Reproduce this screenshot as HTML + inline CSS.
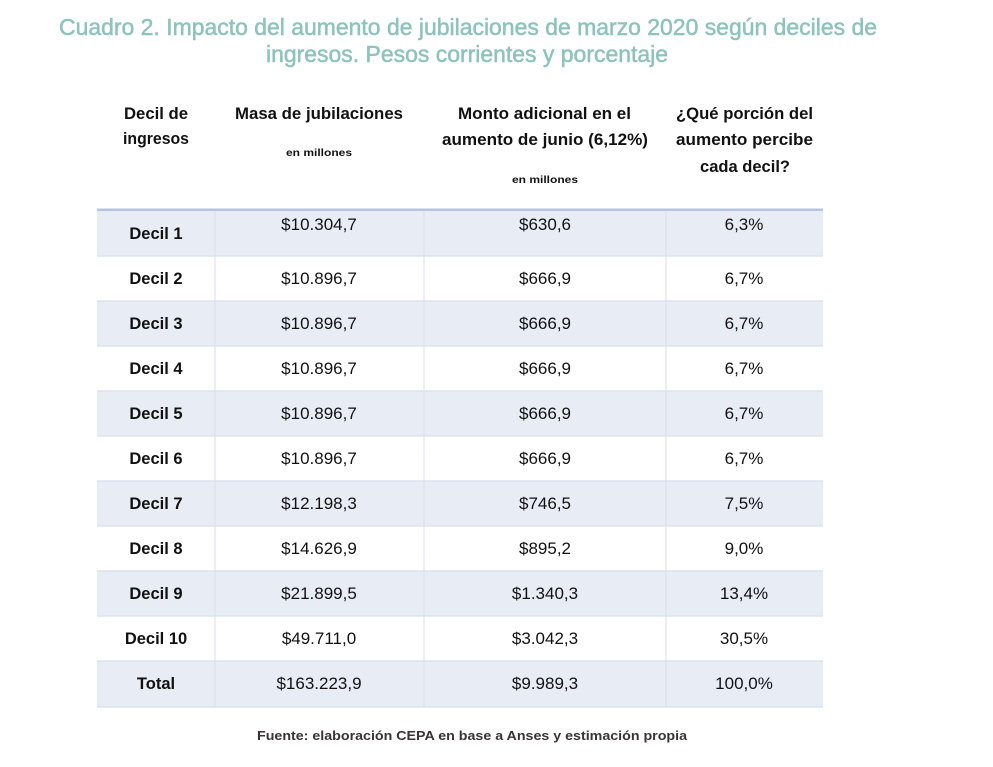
<!DOCTYPE html>
<html>
<head>
<meta charset="utf-8">
<style>
html,body{margin:0;padding:0;background:#fff;}
svg{display:block;}
.t{font-family:"Liberation Sans",sans-serif;fill:#8cc3bd;stroke:#8cc3bd;stroke-width:0.5px;font-size:23px;}
.h{font-family:"Liberation Sans",sans-serif;font-weight:bold;font-size:16.5px;fill:#111;}
.s{font-family:"Liberation Sans",sans-serif;font-weight:bold;font-size:10.5px;fill:#111;}
.l{font-family:"Liberation Sans",sans-serif;font-weight:bold;font-size:16.5px;fill:#111;}
.v{font-family:"Liberation Sans",sans-serif;font-size:17px;fill:#111;}
.f{font-family:"Liberation Sans",sans-serif;font-weight:bold;font-size:12.5px;fill:#3a3234;}
</style>
</head>
<body>
<svg width="993" height="767" viewBox="0 0 993 767" xmlns="http://www.w3.org/2000/svg">
<rect x="0" y="0" width="993" height="767" fill="#fff"/>
<!-- Title -->
<text class="t" x="59" y="35" textLength="818" lengthAdjust="spacingAndGlyphs">Cuadro 2. Impacto del aumento de jubilaciones de marzo 2020 según deciles de</text>
<text class="t" x="266" y="62" textLength="402" lengthAdjust="spacingAndGlyphs">ingresos. Pesos corrientes y porcentaje</text>

<!-- Header -->
<text class="h" x="124" y="119" textLength="64" lengthAdjust="spacingAndGlyphs">Decil de</text>
<text class="h" x="123" y="144" textLength="66" lengthAdjust="spacingAndGlyphs">ingresos</text>
<text class="h" x="235" y="119" textLength="168" lengthAdjust="spacingAndGlyphs">Masa de jubilaciones</text>
<text class="s" x="286" y="156" textLength="66" lengthAdjust="spacingAndGlyphs">en millones</text>
<text class="h" x="458" y="119" textLength="173" lengthAdjust="spacingAndGlyphs">Monto adicional en el</text>
<text class="h" x="442" y="145" textLength="206" lengthAdjust="spacingAndGlyphs">aumento de junio (6,12%)</text>
<text class="s" x="512" y="183" textLength="66" lengthAdjust="spacingAndGlyphs">en millones</text>
<text class="h" x="676" y="119" textLength="137" lengthAdjust="spacingAndGlyphs">¿Qué porción del</text>
<text class="h" x="676" y="145" textLength="137" lengthAdjust="spacingAndGlyphs">aumento percibe</text>
<text class="h" x="700" y="172" textLength="90" lengthAdjust="spacingAndGlyphs">cada decil?</text>

<!-- Row fills -->
<g fill="#e8ecf5">
<rect x="97" y="210" width="726" height="46"/>
<rect x="97" y="301" width="726" height="45"/>
<rect x="97" y="391" width="726" height="45"/>
<rect x="97" y="481" width="726" height="45"/>
<rect x="97" y="571" width="726" height="45"/>
<rect x="97" y="661" width="726" height="46"/>
</g>
<!-- Horizontal separators -->
<g stroke="#d8deed" stroke-width="1.2">
<line x1="97" y1="256" x2="823" y2="256"/>
<line x1="97" y1="301" x2="823" y2="301"/>
<line x1="97" y1="346" x2="823" y2="346"/>
<line x1="97" y1="391" x2="823" y2="391"/>
<line x1="97" y1="436" x2="823" y2="436"/>
<line x1="97" y1="481" x2="823" y2="481"/>
<line x1="97" y1="526" x2="823" y2="526"/>
<line x1="97" y1="571" x2="823" y2="571"/>
<line x1="97" y1="616" x2="823" y2="616"/>
<line x1="97" y1="661" x2="823" y2="661"/>
<line x1="97" y1="707" x2="823" y2="707"/>
</g>
<!-- Vertical dividers -->
<g stroke="#d8deed" stroke-width="1">
<line x1="215" y1="209" x2="215" y2="707"/>
<line x1="424" y1="209" x2="424" y2="707"/>
<line x1="666" y1="209" x2="666" y2="707"/>
</g>
<!-- Header bottom line -->
<rect x="97" y="208.5" width="726" height="2.5" fill="#b4c3e1"/>

<!-- Row labels -->
<g class="l" text-anchor="middle">
<text x="156" y="239">Decil 1</text>
<text x="156" y="284">Decil 2</text>
<text x="156" y="329">Decil 3</text>
<text x="156" y="374">Decil 4</text>
<text x="156" y="419">Decil 5</text>
<text x="156" y="464">Decil 6</text>
<text x="156" y="509">Decil 7</text>
<text x="156" y="554">Decil 8</text>
<text x="156" y="599">Decil 9</text>
<text x="156" y="644">Decil 10</text>
<text x="156" y="689">Total</text>
</g>
<!-- Column 2 -->
<g class="v" text-anchor="middle">
<text x="319" y="230">$10.304,7</text>
<text x="319" y="284">$10.896,7</text>
<text x="319" y="329">$10.896,7</text>
<text x="319" y="374">$10.896,7</text>
<text x="319" y="419">$10.896,7</text>
<text x="319" y="464">$10.896,7</text>
<text x="319" y="509">$12.198,3</text>
<text x="319" y="554">$14.626,9</text>
<text x="319" y="599">$21.899,5</text>
<text x="319" y="644">$49.711,0</text>
<text x="319" y="689">$163.223,9</text>
</g>
<!-- Column 3 -->
<g class="v" text-anchor="middle">
<text x="545" y="230">$630,6</text>
<text x="545" y="284">$666,9</text>
<text x="545" y="329">$666,9</text>
<text x="545" y="374">$666,9</text>
<text x="545" y="419">$666,9</text>
<text x="545" y="464">$666,9</text>
<text x="545" y="509">$746,5</text>
<text x="545" y="554">$895,2</text>
<text x="545" y="599">$1.340,3</text>
<text x="545" y="644">$3.042,3</text>
<text x="545" y="689">$9.989,3</text>
</g>
<!-- Column 4 -->
<g class="v" text-anchor="middle">
<text x="744" y="230">6,3%</text>
<text x="744" y="284">6,7%</text>
<text x="744" y="329">6,7%</text>
<text x="744" y="374">6,7%</text>
<text x="744" y="419">6,7%</text>
<text x="744" y="464">6,7%</text>
<text x="744" y="509">7,5%</text>
<text x="744" y="554">9,0%</text>
<text x="744" y="599">13,4%</text>
<text x="744" y="644">30,5%</text>
<text x="744" y="689">100,0%</text>
</g>

<!-- Footer -->
<text class="f" x="257" y="740" textLength="430" lengthAdjust="spacingAndGlyphs">Fuente: elaboración CEPA en base a Anses  y estimación propia</text>
</svg>
</body>
</html>
